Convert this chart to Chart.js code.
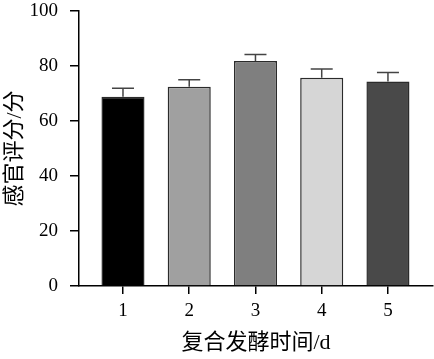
<!DOCTYPE html>
<html>
<head>
<meta charset="utf-8">
<script src="https://cdn.jsdelivr.net/npm/chart.js@4"></script>
<style>
  html, body { margin: 0; padding: 0; background: #fff; }
  #wrap { width: 434px; height: 359px; }
</style>
</head>
<body>
<div id="wrap"><canvas id="chart" width="434" height="359"></canvas></div>
<script>
const days = [1, 2, 3, 4, 5];
const scores = [68.8, 72.5, 81.8, 75.7, 74.4];
const errors = [3.1, 2.5, 2.4, 3.2, 3.2];
const barColors = ['#000000', '#a0a0a0', '#7f7f7f', '#d6d6d6', '#494949'];
const yTicks = [0, 20, 40, 60, 80, 100];

const serif = "'Liberation Serif', 'DejaVu Serif', serif";
const cjk = "'Liberation Serif', 'Noto Sans CJK SC', serif";

// error bars (upper half only), drawn on top of the bars
const errorBars = {
    id: 'errorBars',
    afterDatasetsDraw(chart) {
        const ctx = chart.ctx;
        const meta = chart.getDatasetMeta(0);
        const y = chart.scales.y;
        ctx.save();
        ctx.strokeStyle = '#444';
        ctx.lineWidth = 1.5;
        meta.data.forEach((bar, i) => {
            const top = y.getPixelForValue(scores[i] + errors[i]);
            ctx.beginPath();
            ctx.moveTo(bar.x, bar.y);
            ctx.lineTo(bar.x, top);
            ctx.moveTo(bar.x - 11, top);
            ctx.lineTo(bar.x + 11, top);
            ctx.stroke();
        });
        ctx.restore();
    }
};

new Chart(document.getElementById('chart'), {
    type: 'bar',
    data: {
        datasets: [{
            data: days.map((d, i) => ({ x: d, y: scores[i] })),
            backgroundColor: barColors,
            borderColor: '#2b2b2b',
            borderWidth: 1.5,
            barPercentage: 0.65,
            categoryPercentage: 1
        }]
    },
    options: {
        responsive: false,
        animation: false,
        layout: { padding: { top: 0, right: 1, left: 0, bottom: 0 } },
        plugins: { legend: { display: false }, tooltip: { enabled: false } },
        scales: {
            x: {
                type: 'linear',
                offset: false,
                min: 0.336,
                max: 5.68,
                afterBuildTicks: s => { s.ticks = days.map(v => ({ value: v })); },
                afterFit: s => { s.height = 73; },
                grid: { offset: false, drawOnChartArea: false, tickLength: 8, color: '#000', lineWidth: 1.5 },
                border: { display: true, color: '#000', width: 1.5 },
                ticks: { color: '#000', font: { family: serif, size: 19 }, padding: 6, maxRotation: 0 },
                title: {
                    display: true,
                    text: '复合发酵时间/d',
                    color: '#000',
                    font: { family: cjk, size: 22 },
                    padding: { top: 0, bottom: 3 }
                }
            },
            y: {
                min: 0,
                max: 100,
                afterBuildTicks: s => { s.ticks = yTicks.map(v => ({ value: v })); },
                afterFit: s => { s.width = 79; s.paddingTop = 11; },
                grid: { drawOnChartArea: false, tickLength: 9, color: '#000', lineWidth: 1.5 },
                border: { display: true, color: '#000', width: 1.5 },
                ticks: { color: '#000', font: { family: serif, size: 19 }, padding: 12 },
                title: {
                    display: true,
                    text: '感官评分/分',
                    color: '#000',
                    font: { family: cjk, size: 22 },
                    padding: { top: 2, bottom: 0 }
                }
            }
        }
    },
    plugins: [errorBars]
});
</script>
</body>
</html>
